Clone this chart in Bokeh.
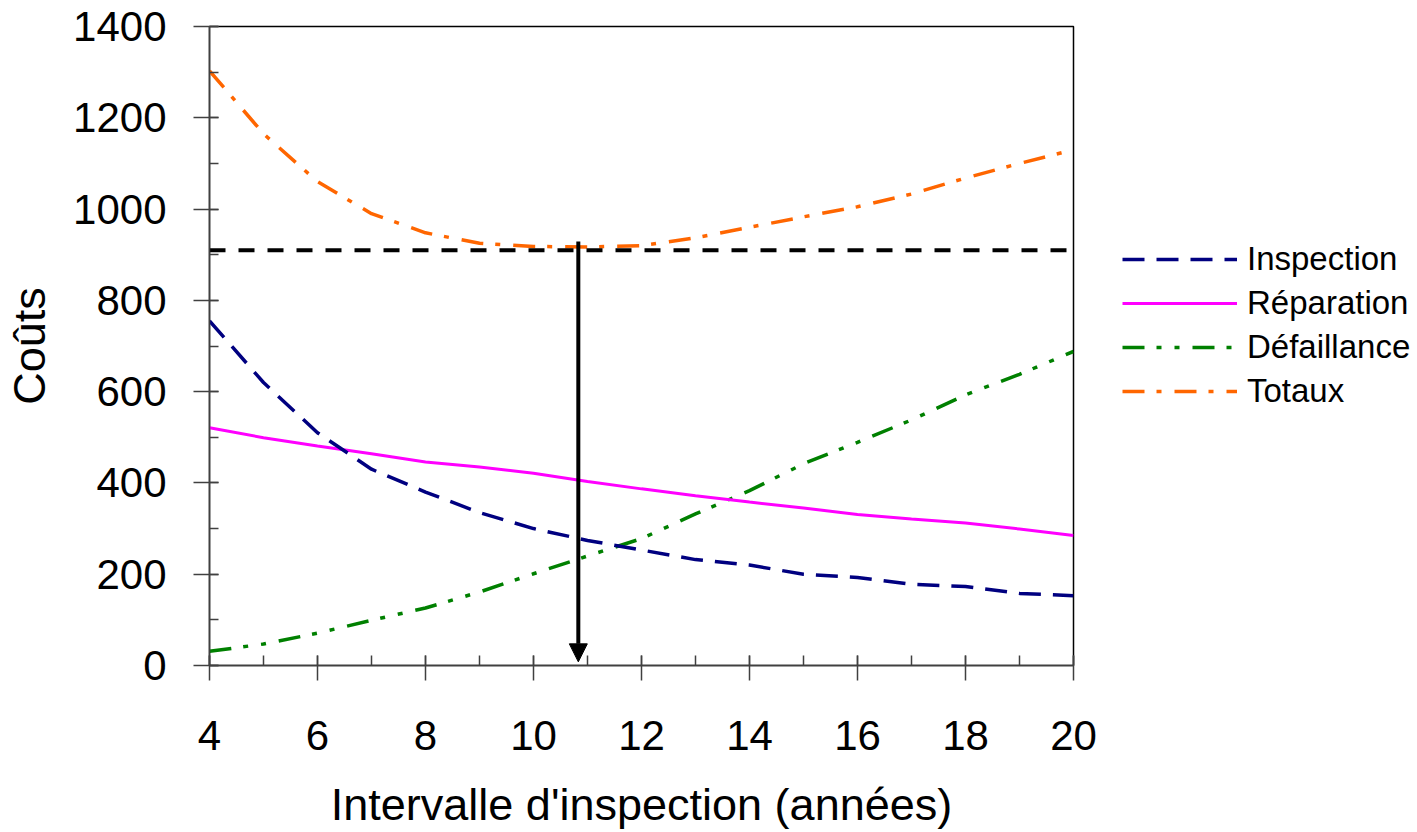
from bokeh.plotting import figure
from bokeh.models import Range1d, SingleIntervalTicker, Legend, LegendItem, Arrow, NormalHead
from bokeh.embed import file_html
from bokeh.resources import INLINE

# ---- data ----
years = [4, 5, 6, 7, 8, 9, 10, 11, 12, 13, 14, 15, 16, 17, 18, 19, 20]
inspection = [755, 620, 510, 430, 380, 335, 300, 274, 253, 232, 220, 200, 193, 178, 173, 158, 153]
reparation = [521, 499, 481, 464, 446, 435, 421, 403, 387, 372, 358, 345, 331, 321, 312, 299, 285]
defaillance = [31, 47, 71, 99, 126, 161, 201, 240, 278, 332, 383, 442, 489, 538, 593, 638, 688]
totaux = [1303, 1165, 1060, 990, 948, 925, 918, 917, 920, 937, 960, 983, 1005, 1033, 1068, 1100, 1130]
series_names = ["Inspection", "Réparation", "Défaillance", "Totaux"]
min_cost = 910
optimum_interval = 10.83
arrow_top = 929
x_label = "Intervalle d'inspection (années)"
y_label = "Coûts"

FONT = "Liberation Sans"

p = figure(frame_width=864, frame_height=639, output_backend="svg", toolbar_location=None,
           x_range=Range1d(4, 20), y_range=Range1d(0, 1400),
           min_border_left=209, min_border_right=0, min_border_top=26,
           min_border_bottom=152)
p.grid.visible = False
p.background_fill_color = "white"
p.border_fill_color = "white"
p.outline_line_color = "black"
p.outline_line_width = 1.5

# axes
p.xaxis.ticker = SingleIntervalTicker(interval=2, num_minor_ticks=2)
p.yaxis.ticker = SingleIntervalTicker(interval=200, num_minor_ticks=2)
for ax in (p.xaxis, p.yaxis):
    ax.axis_line_color = "#404040"
    ax.axis_line_width = 1.5
    ax.major_tick_line_color = "#404040"
    ax.minor_tick_line_color = "#404040"
    ax.major_tick_line_width = 1.5
    ax.minor_tick_line_width = 1.5
    ax.major_label_text_font = FONT
    ax.major_label_text_font_size = "42px"
    ax.major_label_text_color = "black"
    ax.axis_label_text_font = FONT
    ax.axis_label_text_font_size = "45px"
    ax.axis_label_text_font_style = "normal"
    ax.axis_label_text_color = "black"
    ax.minor_tick_out = 0
p.xaxis.major_tick_out = 15
p.xaxis.major_tick_in = 10
p.xaxis.minor_tick_in = 10
p.yaxis.major_tick_out = 16
p.yaxis.major_tick_in = 9
p.yaxis.minor_tick_in = 9
p.xaxis.major_label_standoff = 40
p.yaxis.major_label_standoff = 27
p.xaxis.axis_label = x_label
p.yaxis.axis_label = y_label
p.xaxis.axis_label_standoff = 26
p.yaxis.axis_label_standoff = 15

# series
r_tot = p.line(years, totaux, color="#FF6600", line_width=3.5, line_dash="22 12 5 13")
r_def = p.line(years, defaillance, color="#008000", line_width=3.5, line_dash="22 12 5 13 5 13")
r_rep = p.line(years, reparation, color="#FF00FF", line_width=3)
r_ins = p.line(years, inspection, color="#000080", line_width=3.5, line_dash="22 12")

# minimum cost line and arrow
p.line([years[0], years[-1]], [min_cost, min_cost], color="black", line_width=4, line_dash="16 13")
p.add_layout(Arrow(end=NormalHead(size=18, fill_color="black", line_color="black", line_width=1),
                   x_start=optimum_interval, y_start=arrow_top,
                   x_end=optimum_interval, y_end=8,
                   line_width=4, line_color="black"))

legend = Legend(items=[LegendItem(label=series_names[0], renderers=[r_ins]),
                       LegendItem(label=series_names[1], renderers=[r_rep]),
                       LegendItem(label=series_names[2], renderers=[r_def]),
                       LegendItem(label=series_names[3], renderers=[r_tot])],
                location=(49, 252))
legend.border_line_color = None
legend.background_fill_alpha = 0
legend.padding = 0
legend.margin = 0
legend.spacing = 0
legend.glyph_width = 115
legend.glyph_height = 44
legend.label_height = 44
legend.label_standoff = 10
legend.label_text_font = FONT
legend.label_text_font_size = "33px"
legend.label_text_color = "black"
p.add_layout(legend, "right")

open("out.html", "w").write(file_html(p, INLINE))
